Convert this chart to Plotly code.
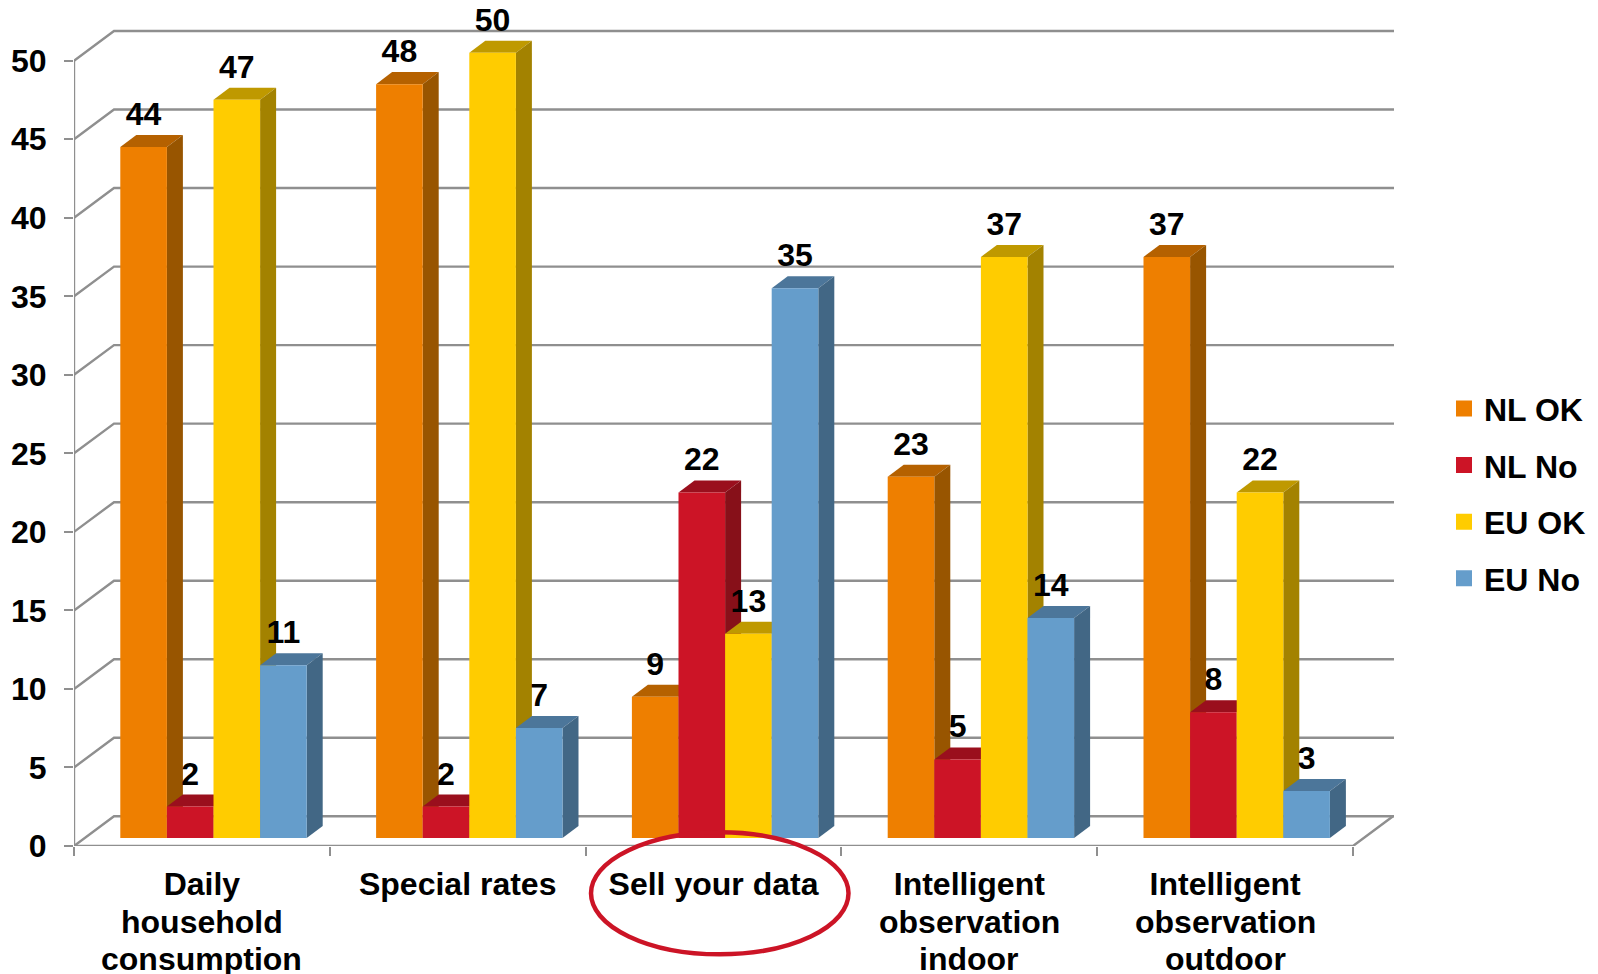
import plotly.graph_objects as go

category_lines = [["Daily", "household", "consumption"], ["Special rates"], ["Sell your data"],
                  ["Intelligent", "observation", "indoor"], ["Intelligent", "observation", "outdoor"]]
series_names = ["NL OK", "NL No", "EU OK", "EU No"]
nl_ok = [44, 48, 9, 23, 37]
nl_no = [2, 2, 22, 5, 8]
eu_ok = [47, 50, 13, 37, 22]
eu_no = [11, 7, 35, 14, 3]
y_ticks = [0, 5, 10, 15, 20, 25, 30, 35, 40, 45, 50]
series_values = [nl_ok, nl_no, eu_ok, eu_no]

front_colors = ["#EE7F00", "#CC1426", "#FFCC00", "#659DCB"]
top_colors = ["#B56100", "#9A0F1D", "#BF9900", "#4C769A"]
side_colors = ["#985500", "#871019", "#A38200", "#426785"]
GRID = "#8F8F8F"
INK = "#000000"
FONT = "Liberation Sans"
FS = 32

# Pixel geometry of the plot frame
W, H = 1598, 974
LEFT, RIGHT, TOP, BOTTOM = 74.0, 1394.0, 10.0, 845.7
SLOT = 255.8
UNIT = 15.7
xmin = -0.5
xmax = xmin + (RIGHT - LEFT) / SLOT
ymax = (BOTTOM - TOP) / UNIT


def xu(px):
    return px / SLOT


def yu(px):
    return px / UNIT


# Pseudo-3D depth
wall_dx, wall_dy = xu(40), yu(29.7)
bar_w = xu(46.6)
bar_dx, bar_dy = xu(16), yu(12)
base = yu(8)
shift = xu(11.6)
label_gap = yu(30)

fig = go.Figure()

# Wall, floor and axis lines
gx, gy = [], []
n = len(category_lines)
xend = xmin + n
for t in y_ticks:
    gx += [xmin, xmin + wall_dx, xmax, None]
    gy += [t, t + wall_dy, t + wall_dy, None]
gx += [xmin, xmin, None, xmin, xend, xend + wall_dx, None]
gy += [0, y_ticks[-1], None, 0, 0, wall_dy, None]
fig.add_trace(go.Scatter(x=gx, y=gy, mode="lines", line=dict(color=GRID, width=2.4),
                         showlegend=False, hoverinfo="skip", cliponaxis=False))


def bar_x(i, s):
    return i + shift + (s - 1.5) * bar_w


# Top and side faces
for s, values in enumerate(series_values):
    for i, v in enumerate(values):
        xl = bar_x(i, s) - bar_w / 2
        xr = xl + bar_w
        yb = base
        yt = base + v
        fig.add_trace(go.Scatter(
            x=[xl, xl + bar_dx, xr + bar_dx, xr, xl],
            y=[yt, yt + bar_dy, yt + bar_dy, yt, yt],
            mode="lines", fill="toself", fillcolor=top_colors[s], line=dict(width=0),
            showlegend=False, hoverinfo="skip"))
        fig.add_trace(go.Scatter(
            x=[xr, xr + bar_dx, xr + bar_dx, xr, xr],
            y=[yt, yt + bar_dy, yb + bar_dy, yb, yt],
            mode="lines", fill="toself", fillcolor=side_colors[s], line=dict(width=0),
            showlegend=False, hoverinfo="skip"))

# Legend entries
for s, name in enumerate(series_names):
    fig.add_trace(go.Scatter(
        x=[None], y=[None], mode="markers", name=name, legendgroup=name,
        marker=dict(symbol="square", size=17, color=front_colors[s])))

# Front faces sit on an overlaying subplot so they cover the depth faces
for s, values in enumerate(series_values):
    fig.add_trace(go.Bar(
        x=[bar_x(i, s) for i in range(n)], y=values, base=base, width=bar_w,
        marker=dict(color=front_colors[s], line=dict(width=0)),
        name=series_names[s], legendgroup=series_names[s], showlegend=False,
        xaxis="x2", yaxis="y2"))

# Value labels
for s, values in enumerate(series_values):
    fig.add_trace(go.Scatter(
        x=[bar_x(i, s) for i in range(n)], y=[base + v + label_gap for v in values],
        text=[str(v) for v in values], mode="text", textposition="middle center",
        textfont=dict(family=FONT, size=FS, color=INK, weight=700),
        showlegend=False, hoverinfo="skip", xaxis="x2", yaxis="y2", cliponaxis=False))

# Highlight ellipse
plot_w, plot_h = RIGHT - LEFT, BOTTOM - TOP
fig.add_shape(type="circle", xref="paper", yref="paper", layer="above",
              x0=(591 - LEFT) / plot_w, x1=(848.5 - LEFT) / plot_w,
              y0=(BOTTOM - 954) / plot_h, y1=(BOTTOM - 838 + 6) / plot_h,
              line=dict(color="#CC1426", width=4.5))

# Continuation lines of the category labels (tight line pitch)
LINE_PITCH = 37.3
FIRST_LINE = 38.3
for i, lines in enumerate(category_lines):
    for k, line in enumerate(lines[1:], start=1):
        fig.add_annotation(x=i, y=0, xref="x", yref="paper", text=line, showarrow=False,
                           xanchor="center", yanchor="middle",
                           yshift=-(FIRST_LINE + k * LINE_PITCH),
                           font=dict(family=FONT, size=FS, color=INK, weight=700))

fig.update_layout(
    width=W, height=H, autosize=False,
    margin=dict(l=LEFT, r=W - RIGHT, t=TOP, b=H - BOTTOM, pad=0, autoexpand=False),
    paper_bgcolor="#FFFFFF", plot_bgcolor="rgba(0,0,0,0)",
    barmode="overlay",
    font=dict(family=FONT, size=FS, color=INK),
    xaxis=dict(range=[xmin, xmax], showgrid=False, zeroline=False, showline=False,
               tickmode="array", tickvals=list(range(n)),
               ticktext=[lines[0] for lines in category_lines],
               ticks="", ticklabelstandoff=16,
               tickfont=dict(family=FONT, size=FS, color=INK, weight=700),
               minor=dict(tickmode="array", tickvals=[xmin + k for k in range(n + 1)],
                          ticks="outside", ticklen=9, tickwidth=2, tickcolor=GRID,
                          showgrid=False)),
    yaxis=dict(range=[0, ymax], showgrid=False, zeroline=False, showline=False,
               tickmode="array", tickvals=y_ticks, ticks="outside", ticklen=9,
               tickwidth=2, tickcolor=GRID, ticklabelstandoff=11,
               tickfont=dict(family=FONT, size=FS, color=INK, weight=700)),
    xaxis2=dict(range=[xmin, xmax], overlaying="x", visible=False),
    yaxis2=dict(range=[0, ymax], overlaying="y", visible=False),
    legend=dict(x=(1444 - LEFT) / plot_w, xanchor="left",
                y=(BOTTOM - 381) / plot_h, yanchor="top",
                traceorder="grouped", tracegroupgap=12, bgcolor="rgba(0,0,0,0)",
                borderwidth=0, itemclick=False, itemdoubleclick=False,
                font=dict(family=FONT, size=FS, color=INK, weight=700)),
    hovermode=False,
)

fig.write_html("out.html", post_script='document.body.style.margin="0";',
               config=dict(displayModeBar=False))
